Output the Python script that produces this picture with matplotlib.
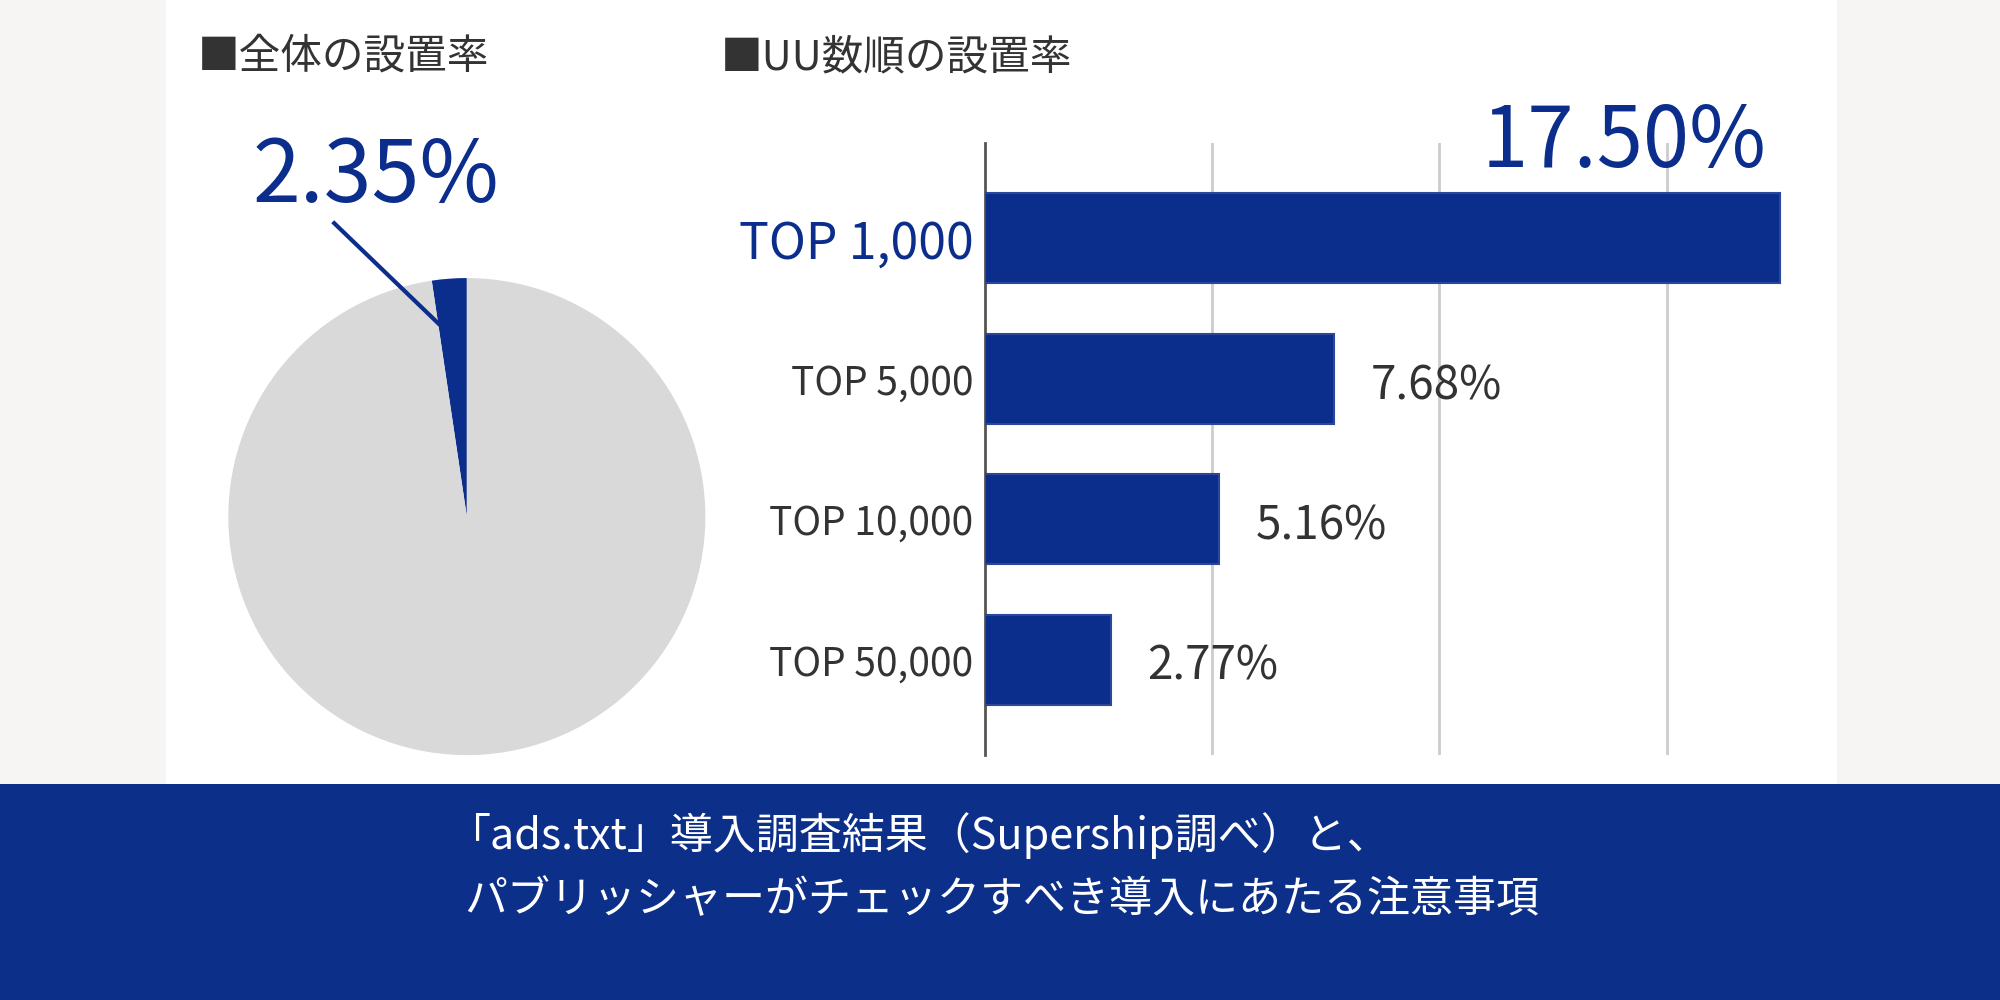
import numpy as np
import matplotlib
matplotlib.use("Agg")
import matplotlib.pyplot as plt
from matplotlib.patches import Rectangle

plt.rcParams["font.family"] = "Noto Sans CJK JP"

categories = ["TOP 1,000", "TOP 5,000", "TOP 10,000", "TOP 50,000"]
rates = [17.50, 7.68, 5.16, 2.77]
rate_labels = ["17.50%", "7.68%", "5.16%", "2.77%"]
overall_rate = 2.35
overall_label = "2.35%"
header_left = "■全体の設置率"
header_right = "■UU数順の設置率"
banner_lines = ["「ads.txt」導入調査結果（Supership調べ）と、",
                "パブリッシャーがチェックすべき導入にあたる注意事項"]

BLUE = "#0b2d8c"
GRAY = "#d9d9d9"
DARK = "#333333"

fig = plt.figure(figsize=(20, 10), dpi=100)
fig.patch.set_facecolor("#f6f5f3")
fig.add_artist(Rectangle((130/1568, 1-615/784), (1440-130)/1568, 615/784,
                         transform=fig.transFigure, facecolor="white", edgecolor="none", zorder=0))
fig.add_artist(Rectangle((0, 0), 1, 1-615/784, transform=fig.transFigure,
                         facecolor="#0c2f8a", edgecolor="none", zorder=0))

fig.text(155/1568, 1-45/784, header_left, fontsize=30, color=DARK, va="center")
fig.text(565/1568, 1-45/784, header_right, fontsize=30, color=DARK, va="center")
fig.text(720/1568, 1-655/784, banner_lines[0], fontsize=31, color="white", ha="center", va="center")
fig.text(785/1568, 1-706/784, banner_lines[1], fontsize=31, color="white", ha="center", va="center")

# Pie
cx, cy, r = 366/1568, 1-405/784, 187
axp = fig.add_axes([cx - r/1568, cy - r/784, 2*r/1568, 2*r/784])
axp.pie([overall_rate, 100 - overall_rate], colors=[BLUE, GRAY], startangle=90,
        counterclock=True, radius=1)
axp.set_xlim(-1, 1); axp.set_ylim(-1, 1)
axp.set_aspect("auto")
axp.axis("off")
ang = np.deg2rad(90 + overall_rate/100*360/2)
axp.plot([-0.556, 0.75*np.cos(ang)], [1.23, 0.75*np.sin(ang)], color=BLUE, lw=3, clip_on=False)
axp.text(-0.38, 1.42, overall_label, fontsize=62, color=BLUE, ha="center", va="center", clip_on=False)

# Bars
axb = fig.add_axes([772/1568, 1-592/784, (1485-772)/1568, (592-112)/784])
y = np.arange(len(categories))
axb.barh(y, rates, height=0.64, color=BLUE, edgecolor="#2a4799", linewidth=1.5, zorder=3)
axb.set_xlim(0, 20)
axb.set_ylim(len(categories) - 0.32, -0.68)
axb.set_xticks([5, 10, 15])
axb.grid(axis="x", color="#cccccc", lw=2, zorder=0)
axb.tick_params(length=0, labelbottom=False)
axb.set_yticks(y)
axb.set_yticklabels(categories)
for i, lab in enumerate(axb.get_yticklabels()):
    if i == 0:
        lab.set_fontsize(36); lab.set_color(BLUE)
    else:
        lab.set_fontsize(28); lab.set_color(DARK)
axb.tick_params(axis="y", pad=8)
for s in ["top", "right", "bottom"]:
    axb.spines[s].set_visible(False)
axb.spines["left"].set_color("#555555")
axb.spines["left"].set_linewidth(2)
axb.set_facecolor("none")
axb.text(rates[0] - 0.3, -0.68, rate_labels[0], fontsize=60, color=BLUE, ha="right",
         va="center", zorder=4)
for i in range(1, len(rates)):
    axb.text(rates[i] + 0.8, y[i] + 0.05, rate_labels[i], fontsize=33, color=DARK,
             ha="left", va="center")

fig.savefig("out.png", dpi=100, facecolor=fig.get_facecolor())
